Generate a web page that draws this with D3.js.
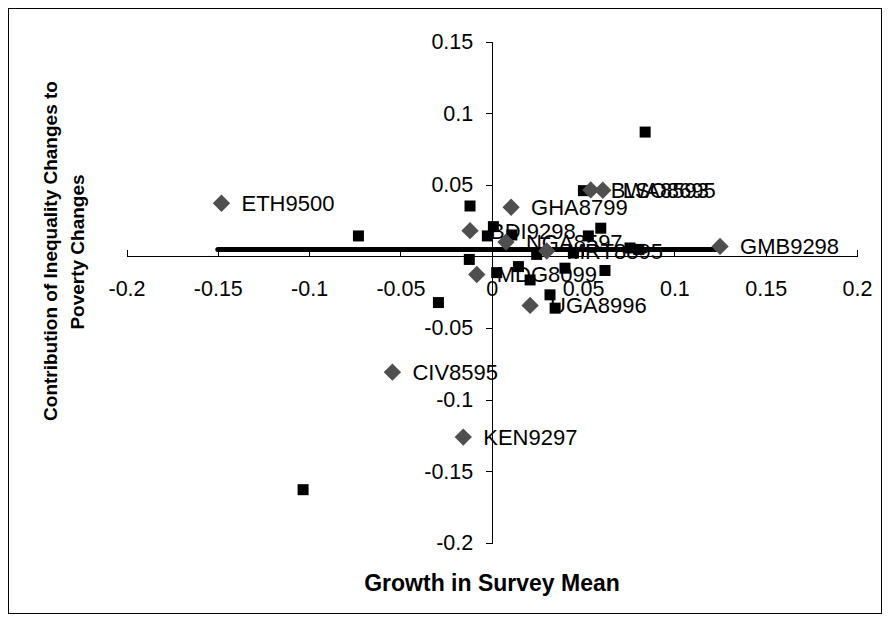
<!DOCTYPE html>
<html lang="en">
<head>
<meta charset="utf-8">
<style>
  body { margin: 0; background: #fff; }
  svg text { font-family: "Liberation Sans", Arial, sans-serif; fill: #000; }
  .axis path, .axis line { stroke: #000; stroke-width: 1px; shape-rendering: crispEdges; }
  .axis text { font-size: 21.5px; }
  .lbl { font-size: 22px; }
  .title { font-weight: bold; }
</style>
<script src="https://cdn.jsdelivr.net/npm/d3@7"></script>
</head>
<body>
<svg width="890" height="621"></svg>
<script>
// labelled countries (grey diamonds)
var labNames = ["ETH9500", "GHA8799", "BDI9298", "NGA8597", "MRT8895", "BWA8593",
                "LSO8695", "GMB9298", "MDG8099", "UGA8996", "CIV8595", "KEN9297"];
var labX = [-0.148, 0.0106, -0.0119, 0.0078, 0.0301, 0.0542,
            0.0608, 0.125, -0.0082, 0.0210, -0.0544, -0.0156];
var labY = [0.0371, 0.0343, 0.0180, 0.0100, 0.0038, 0.0464,
            0.0462, 0.0070, -0.0126, -0.0342, -0.0808, -0.1261];

// other observations (black squares)
var sqX = [0.0840, -0.1033, -0.0730, -0.0119, 0.0009, -0.0024, 0.0110, -0.0123,
           0.0027, 0.0146, 0.0210, 0.0246, 0.0319, 0.0347, 0.0401, 0.0447,
           0.0502, 0.0529, 0.0597, 0.0620, 0.0757, 0.0805, -0.0292];
var sqY = [0.0868, -0.1628, 0.0143, 0.0352, 0.0208, 0.0143, 0.0150, -0.0021,
           -0.0113, -0.0071, -0.0164, 0.0014, -0.0268, -0.0361, -0.0082, 0.0024,
           0.0459, 0.0143, 0.0197, -0.0098, 0.0059, 0.0049, -0.0322];

// flat fitted line
var lineX = [-0.15, 0.123];
var lineY = [0.0048, 0.0048];

var xTicks = [-0.2, -0.15, -0.1, -0.05, 0, 0.05, 0.1, 0.15, 0.2];
var yTicks = [-0.2, -0.15, -0.1, -0.05, 0.05, 0.1, 0.15];

var svg = d3.select("svg");

svg.append("rect")
    .attr("x", 8.5).attr("y", 8.5)
    .attr("width", 873).attr("height", 605)
    .attr("fill", "none").attr("stroke", "#000");

var x = d3.scaleLinear().domain([-0.2, 0.2]).range([126.5, 857]);
var y = d3.scaleLinear().domain([-0.2, 0.15]).range([543, 41.5]);

function fmt(d) { return String(Math.round(d * 100) / 100); }

svg.append("g")
    .attr("class", "axis")
    .attr("transform", "translate(0," + y(0) + ")")
    .call(d3.axisBottom(x).tickValues(xTicks).tickFormat(fmt)
        .tickSizeInner(-6).tickSizeOuter(0).tickPadding(24.5));

svg.append("g")
    .attr("class", "axis")
    .attr("transform", "translate(" + x(0) + ",0)")
    .call(d3.axisLeft(y).tickValues(yTicks).tickFormat(fmt)
        .tickSizeInner(6).tickSizeOuter(0).tickPadding(12.5));

svg.selectAll(".axis .domain").attr("stroke", "#000");

// fitted line
var pts = lineX.map(function(v, i) { return [v, lineY[i]]; });
svg.append("path")
    .attr("d", d3.line().x(function(d) { return x(d[0]); }).y(function(d) { return y(d[1]); })(pts))
    .attr("stroke", "#000")
    .attr("stroke-width", 5)
    .attr("stroke-linecap", "round")
    .attr("fill", "none");

// labels
svg.append("g").selectAll("text")
    .data(labNames)
    .enter().append("text")
    .attr("class", "lbl")
    .attr("x", function(d, i) { return x(labX[i]) + 20; })
    .attr("y", function(d, i) { return y(labY[i]); })
    .attr("dy", "0.36em")
    .text(function(d) { return d; });

// squares
svg.append("g").selectAll("rect")
    .data(sqX)
    .enter().append("rect")
    .attr("x", function(d) { return x(d) - 5.5; })
    .attr("y", function(d, i) { return y(sqY[i]) - 5.5; })
    .attr("width", 11).attr("height", 11)
    .attr("fill", "#000");

// diamonds
var diamond = d3.symbol().type(d3.symbolSquare).size(150);
svg.append("g").selectAll("path")
    .data(labX)
    .enter().append("path")
    .attr("d", diamond)
    .attr("transform", function(d, i) { return "translate(" + x(d) + "," + y(labY[i]) + ") rotate(45)"; })
    .attr("fill", "#4f4f4f");

// axis titles
svg.append("text")
    .attr("class", "title")
    .attr("x", 492).attr("y", 591)
    .attr("text-anchor", "middle")
    .style("font-size", "23px")
    .text("Growth in Survey Mean");

svg.append("text")
    .attr("class", "title")
    .attr("transform", "translate(57,251) rotate(-90)")
    .attr("text-anchor", "middle")
    .style("font-size", "19px")
    .text("Contribution of Inequality Changes to");

svg.append("text")
    .attr("class", "title")
    .attr("transform", "translate(84,252) rotate(-90)")
    .attr("text-anchor", "middle")
    .style("font-size", "19px")
    .text("Poverty Changes");
</script>
</body>
</html>
